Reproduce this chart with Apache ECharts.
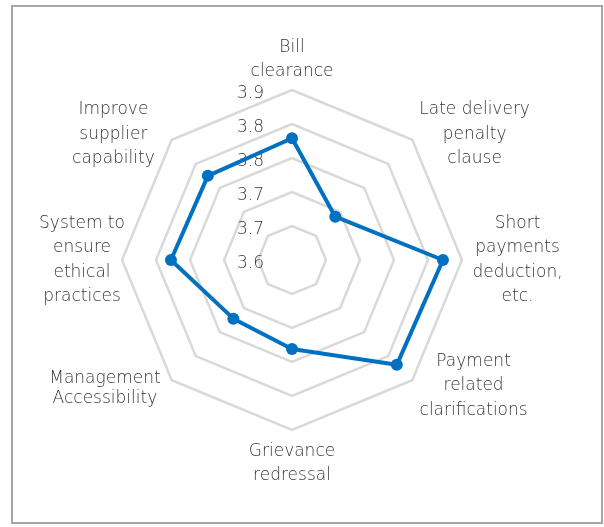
<!DOCTYPE html>
<html><head><meta charset="utf-8">
<script src="https://cdn.jsdelivr.net/npm/echarts@6/dist/echarts.min.js"></script>
<style>html,body{margin:0;padding:0;background:#fff}#c{width:604px;height:527px;position:absolute;left:0;top:0}#b{position:absolute;left:11px;top:5px;width:588px;height:515px;border:2px solid #a6a6a6;pointer-events:none}</style>
</head><body><div id="c"></div><div id="b"></div>
<script>
// clockwise order starting from the top
const categories = ['Bill\nclearance','Late delivery\npenalty\nclause','Short\npayments\ndeduction,\netc.','Payment\nrelated\nclarifications','Grievance\nredressal','Management\nAccessibility','System to\nensure\nethical\npractices','Improve\nsupplier\ncapability'];
const values = [3.779, 3.690, 3.822, 3.818, 3.731, 3.722, 3.778, 3.775];
const tickLabels = ['3.6','3.7','3.7','3.8','3.8','3.9'];
const axisMin = 3.6, axisMax = 3.85, axisStep = 0.05;

// label layout tweaks (per indicator): extra sideways offset, spacer above / below
const sidePad = [0, 9, 13, 9, 0, 13, 0, 19];
const spaceBelow = [9, 15.6, 0, 0, 0, 0, 0, 15.6];
const spaceAbove = [0, 0, 0, 15.6, 12, 21.6, 0, 0];

const FONT = 'DejaVu Sans';
const NAME_SIZE = 17;
const WEIGHT = 200;
const TEXT_COLOR = '#363636';
const ctx = document.createElement('canvas').getContext('2d');
ctx.font = WEIGHT + ' ' + NAME_SIZE + 'px "' + FONT + '"';
const rich = {};
categories.forEach((c, i) => {
  const w = Math.ceil(Math.max.apply(null, c.split('\n').map(l => ctx.measureText(l).width)));
  rich['n' + i] = {width: w + 2 * sidePad[i], align: 'center', fontSize: NAME_SIZE, fontWeight: WEIGHT,
    lineHeight: c.startsWith('Management') ? 20 : 24.5, color: TEXT_COLOR, fontFamily: FONT};
  rich['a' + i] = {lineHeight: spaceAbove[i], fontSize: 1, width: 1};
  rich['b' + i] = {lineHeight: spaceBelow[i], fontSize: 1, width: 1};
});

// ECharts radar runs counter-clockwise: reorder (first stays at top)
const order = [0].concat(categories.map((_, i) => i).slice(1).reverse());
const radarCats = order.map(i => categories[i]);
const radarVals = order.map(i => values[i]);

const chart = echarts.init(document.getElementById('c'));
chart.setOption({
  animation: false,
  radar: {
    center: [292, 260], radius: 170, startAngle: 90, shape: 'polygon', splitNumber: 5,
    indicator: radarCats.map(n => ({name: n, min: axisMin, max: axisMax})),
    axisName: {
      formatter: (name) => {
        const i = categories.indexOf(name);
        const lines = name.split('\n').map(l => '{n' + i + '|' + l + '}');
        if (spaceAbove[i]) lines.unshift('{a' + i + '| }');
        if (spaceBelow[i]) lines.push('{b' + i + '| }');
        return lines.join('\n');
      },
      rich: rich, color: TEXT_COLOR, fontSize: NAME_SIZE
    },
    nameGap: -3,
    axisLine: {show: false},
    splitLine: {lineStyle: {color: '#d9d9d9', width: 2.5}},
    splitArea: {show: false},
    axisTick: {show: false},
    axisLabel: {show: false}
  },
  polar: {center: [292, 264], radius: [0, 170]},
  angleAxis: {show: false, startAngle: 90, min: 0, max: 360},
  radiusAxis: {
    min: axisMin, max: axisMax, interval: axisStep,
    axisLine: {show: false}, axisTick: {show: false}, splitLine: {show: false},
    axisLabel: {
      show: true, margin: 28, color: TEXT_COLOR, fontSize: 17, fontFamily: FONT, fontWeight: WEIGHT,
      showMinLabel: true, showMaxLabel: true,
      formatter: (v) => tickLabels[Math.round((v - axisMin) / axisStep)]
    }
  },
  series: [{
    type: 'radar',
    symbol: 'circle', symbolSize: 12,
    lineStyle: {color: '#0070C0', width: 4},
    itemStyle: {color: '#0070C0'},
    data: [{value: radarVals}]
  }]
});
</script></body></html>
